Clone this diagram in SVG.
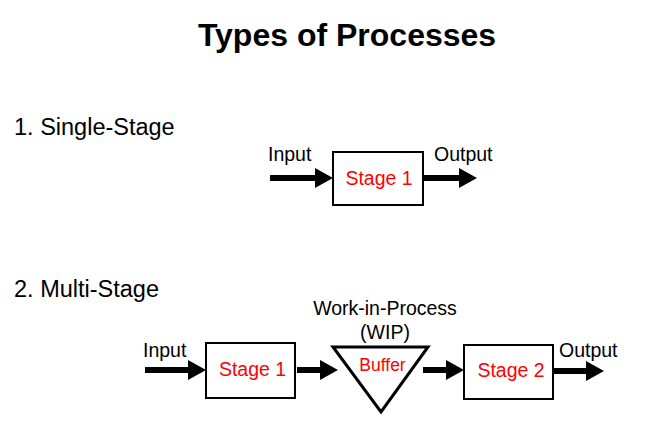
<svg xmlns="http://www.w3.org/2000/svg" width="664" height="440" viewBox="0 0 664 440">
  <style>
    .t { font-family: "Liberation Sans", Arial, sans-serif; fill: #000; }
    .title { font-size: 32px; font-weight: bold; text-anchor: middle; }
    .sec { font-size: 23.5px; }
    .lbl { font-size: 19.5px; }
    .stage { font-family: "Liberation Sans", Arial, sans-serif; font-size: 19.5px; fill: #ff0000; text-anchor: middle; }
    .buf { font-family: "Liberation Sans", Arial, sans-serif; font-size: 17.5px; fill: #ff0000; text-anchor: middle; }
    .box { fill: #fff; stroke: #000; stroke-width: 2; }
    .tri { fill: #fff; stroke: #000; stroke-width: 3; stroke-linejoin: miter; }
    .arr { stroke: #000; stroke-width: 6; fill: none; marker-end: url(#head); }
  </style>
  <defs>
    <marker id="head" markerUnits="userSpaceOnUse" markerWidth="18" markerHeight="20" viewBox="0 0 18 20" refX="0" refY="10" orient="auto" overflow="visible">
      <path d="M0,0 L18,10 L0,20 Z" fill="#000"/>
    </marker>
  </defs>
  <rect width="664" height="440" fill="#fff"/>

  <text class="t title" x="347" y="46">Types of Processes</text>
  <text class="t sec" x="14" y="135">1. Single-Stage</text>
  <text class="t sec" x="14" y="297">2. Multi-Stage</text>

  <g id="connectors">
    <line class="arr" x1="270" y1="178" x2="315" y2="178"/>
    <line class="arr" x1="423" y1="178" x2="459" y2="178"/>
    <line class="arr" x1="145" y1="370" x2="188" y2="370"/>
    <line class="arr" x1="297" y1="370" x2="320" y2="370"/>
    <line class="arr" x1="423" y1="370" x2="446" y2="370"/>
    <line class="arr" x1="553" y1="371" x2="586" y2="371"/>
  </g>

  <g id="single-input"><text class="t lbl" x="268" y="161">Input</text></g>
  <g id="single-stage1">
    <rect class="box" x="333" y="152" width="90" height="53"/>
    <text class="stage" x="379" y="185">Stage 1</text>
  </g>
  <g id="single-output"><text class="t lbl" x="434" y="161">Output</text></g>

  <g id="multi-input"><text class="t lbl" x="143" y="357">Input</text></g>
  <g id="multi-stage1">
    <rect class="box" x="206" y="343" width="89" height="55"/>
    <text class="stage" x="252.5" y="376">Stage 1</text>
  </g>
  <g id="buffer">
    <polygon class="tri" points="333,347 428,347 381,412"/>
    <text class="buf" x="382.5" y="371">Buffer</text>
  </g>
  <g id="wip-label">
    <text class="t lbl" x="385" y="315" text-anchor="middle">Work-in-Process</text>
    <text class="t lbl" x="385" y="339" text-anchor="middle">(WIP)</text>
  </g>
  <g id="multi-stage2">
    <rect class="box" x="464" y="345" width="89" height="54"/>
    <text class="stage" x="511" y="377">Stage 2</text>
  </g>
  <g id="multi-output"><text class="t lbl" x="559" y="357">Output</text></g>
</svg>
